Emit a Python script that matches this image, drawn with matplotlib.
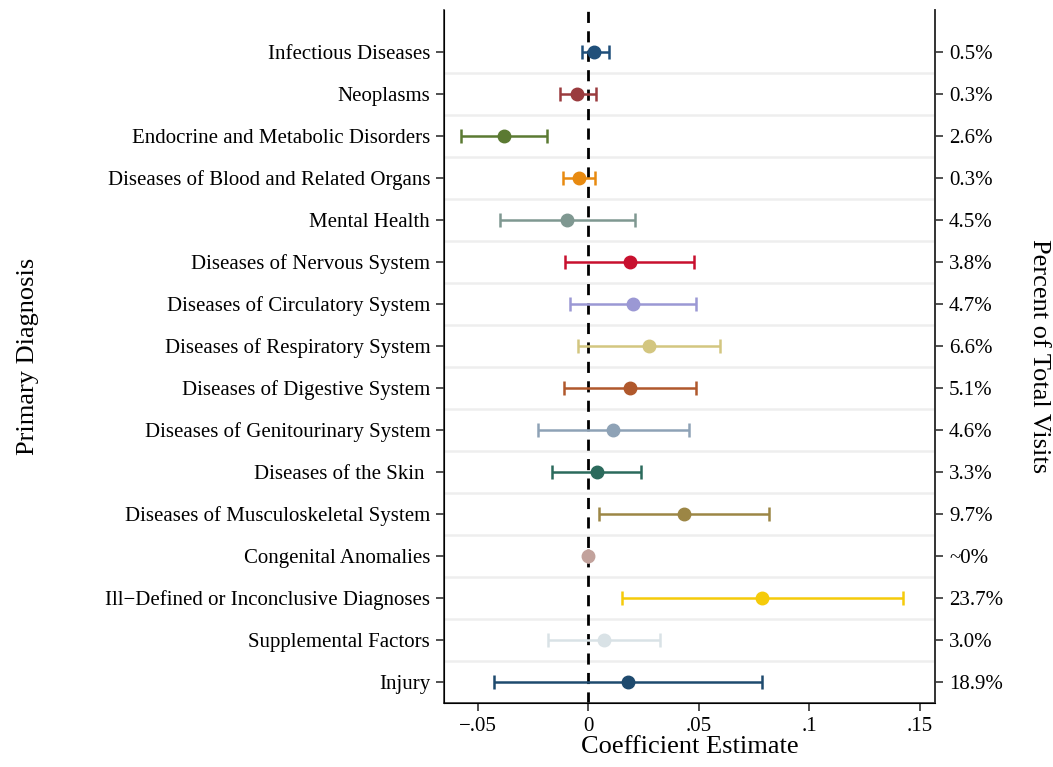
import numpy as np
import matplotlib
matplotlib.use("Agg")
import matplotlib.pyplot as plt

plt.rcParams['font.family'] = ['Liberation Serif', 'DejaVu Serif']

# Datos
categories = [
    "Infectious Diseases",
    "Neoplasms",
    "Endocrine and Metabolic Disorders",
    "Diseases of Blood and Related Organs",
    "Mental Health",
    "Diseases of Nervous System",
    "Diseases of Circulatory System",
    "Diseases of Respiratory System",
    "Diseases of Digestive System",
    "Diseases of Genitourinary System",
    "Diseases of the Skin ",
    "Diseases of Musculoskeletal System",
    "Congenital Anomalies",
    "Ill\u2212Defined or Inconclusive Diagnoses",
    "Supplemental Factors",
    "Injury",
]
estimates = [0.0027, -0.0051, -0.0384, -0.0044, -0.0097, 0.0187, 0.0203, 0.0273,
             0.0187, 0.0112, 0.0039, 0.0432, 0.0, 0.0787, 0.0069, 0.0180]
ci_low = [-0.0029, -0.0131, -0.0577, -0.0116, -0.0402, -0.0104, -0.0082, -0.0048,
          -0.0109, -0.0228, -0.0165, 0.0047, 0.0, 0.0150, -0.0184, -0.0429]
ci_high = [0.0092, 0.0032, -0.0187, 0.0030, 0.0213, 0.0480, 0.0488, 0.0595,
           0.0485, 0.0455, 0.0240, 0.0817, 0.0, 0.1425, 0.0326, 0.0784]
pct_visits = ["0.5%", "0.3%", "2.6%", "0.3%", "4.5%", "3.8%", "4.7%", "6.6%",
              "5.1%", "4.6%", "3.3%", "9.7%", "~0%", "23.7%", "3.0%", "18.9%"]
colors = ["#1f4f7a", "#9a3b3e", "#5b7a32", "#e88a10", "#7f9891", "#c8102e",
          "#9b98d4", "#d3c680", "#b0582c", "#8ea2b6", "#2b6a5c", "#9c8645",
          "#c2a29c", "#f5cb0a", "#d9e2e6", "#1e4a6e"]
xticks = [-0.05, 0, 0.05, 0.1, 0.15]
xticklabels = ["\u2212.05", "0", ".05", ".1", ".15"]

fig = plt.figure(figsize=(10.53, 7.67), dpi=100)
ax = fig.add_axes([0.4217, 0.0834, 0.4663, 0.9036])

y = np.arange(len(categories))

# Lineas de separacion entre filas
for b in np.arange(len(categories) - 1) + 0.5:
    ax.axhline(b, color='#eeeeee', lw=1.8, zorder=0)

ax.axvline(0, color='black', ls=(0, (4, 3)), lw=2, zorder=1)

for i in range(len(categories)):
    lo = estimates[i] - ci_low[i]
    hi = ci_high[i] - estimates[i]
    ax.errorbar(estimates[i], y[i], xerr=[[lo], [hi]], fmt='o', color=colors[i],
                ecolor=colors[i], elinewidth=1.8, capsize=5, capthick=1.8,
                markersize=9, zorder=3)

ax.set_xlim(-0.0654, 0.157)
ax.set_ylim(len(categories) - 0.5, -1)
ax.set_yticks(y)
ax.set_yticklabels(categories, fontsize=15)
ax.set_xticks(xticks)
ax.set_xticklabels(xticklabels, fontsize=15)
ax.set_xlabel("Coefficient Estimate", fontsize=19, labelpad=0)
ax.set_ylabel("Primary Diagnosis", fontsize=19)
ax.yaxis.set_label_coords(-0.825, 0.5)
ax.spines['top'].set_visible(False)
for s in ['left', 'right', 'bottom']:
    ax.spines[s].set_color('#333333')
    ax.spines[s].set_linewidth(1.2)
ax.tick_params(axis='both', length=6, width=1.2, color='#333333', pad=4)

ax2 = ax.twinx()
ax2.set_ylim(ax.get_ylim())
ax2.set_yticks(y)
ax2.set_yticklabels(pct_visits, fontsize=15)
ax2.spines['top'].set_visible(False)
ax2.spines['right'].set_color('#333333')
ax2.spines['right'].set_linewidth(1.2)
ax2.tick_params(axis='y', length=6, width=1.2, color='#333333', pad=4)
ax2.set_ylabel("Percent of Total Visits", fontsize=19, rotation=270)
ax2.yaxis.set_label_coords(1.235, 0.5)

fig.savefig("out.png", dpi=100)
